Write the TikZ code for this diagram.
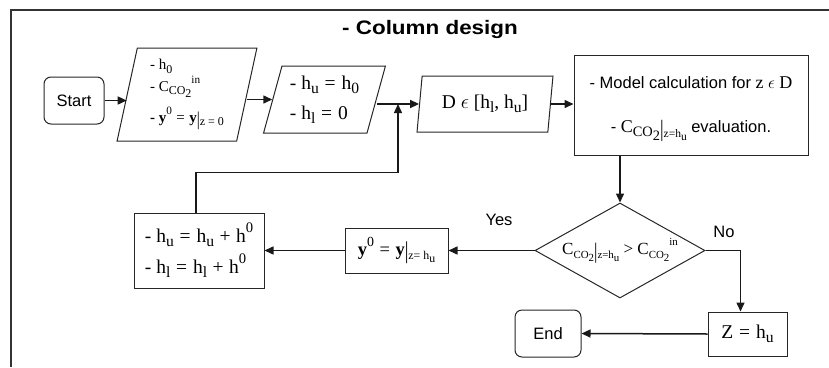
\documentclass[tikz,border=0pt]{standalone}
\usepackage{fontspec}
\setmainfont{Liberation Serif}
\setsansfont{Liberation Sans}
\usetikzlibrary{arrows.meta,shapes.geometric}

% notation helpers
\newcommand\sbs[1]{\raisebox{-0.22em}{\scalebox{0.8}{#1}}}
\newcommand\sps[1]{\raisebox{0.5em}{\scalebox{0.75}{#1}}}
\newcommand\sbsm[1]{\raisebox{-0.25em}{\scalebox{0.64}{#1}}}
\newcommand\spsm[1]{\raisebox{0.55em}{\scalebox{0.64}{#1}}}
\newcommand\low[1]{\raisebox{-0.25em}{#1}}
\newcommand\Cco{C\sbs{CO\low{2}}}
\newcommand\CcoM{C\sbsm{CO\low{2}}}
\newcommand\evbar{\raisebox{-0.2em}{\scalebox{1}[1.3]{|}}}
\newcommand\eqs{\hspace{0.3em}=\hspace{0.3em}}
\newcommand\pls{\hspace{0.28em}+\hspace{0.28em}}
\newcommand\fs[2]{\fontsize{#1}{#2}\selectfont}

\tikzset{
  ink/.style={draw=black!85, line width=1pt},
  arr/.style={draw=black!90, line width=1.5pt, -{Triangle[length=9pt,width=8pt]}},
  term/.style={ink, rounded corners=7pt, inner sep=0pt, font=\sffamily\fs{16.5}{20}},
  procbox/.style={ink, inner sep=0pt, font=\fs{19.5}{31}},
  iobox/.style={ink, trapezium, trapezium stretches=true, inner sep=0pt, font=\fs{19.5}{30}},
  decision/.style={ink, diamond, inner sep=0pt},
  lbl/.style={font=\sffamily\fs{16.5}{20}, inner sep=0pt},
}

\begin{document}
\begin{tikzpicture}[x=1pt,y=-1pt]
\useasboundingbox (0,0) rectangle (829,367);

% outer frame (left and top edges)
\draw[draw=black!80, line width=1.5pt] (11,367) |- (829,10);

\node[font=\sffamily\bfseries\fs{19.5}{20}, inner sep=0pt] (title) at (430,29)
  {\scalebox{1.15}[1]{- Column design}};

% start / end terminals
\node[term, minimum width=60, minimum height=47] (start) at (74,100.5) {Start};
\node[term, minimum width=66, minimum height=47] (end) at (548,333.5) {End};

% input / initialisation blocks
\node[iobox, trapezium left angle=77.9, trapezium right angle=102.1,
      minimum width=140, minimum height=93, align=left, font=\fs{15}{18}] (p1) at (187,94.5)
  {- h\sbs{0}\\[2pt] - \Cco\sps{in}\\[9pt] \textbf{- y}\sps{0}\eqs\textbf{y}\evbar\sbs{z = 0}};
\node[iobox, trapezium left angle=72.6, trapezium right angle=107.4,
      minimum width=123, minimum height=67, align=left] (p2) at (324.5,99.5)
  {- h\sbs{u}\eqs h\sbs{0}\\ - h\sbs{l}\eqs 0};
\node[iobox, trapezium left angle=78.9, trapezium right angle=101.1,
      minimum width=136, minimum height=56] (p3) at (485,104)
  {D $\epsilon$ [h\sbs{l}, h\sbs{u}]};

% model evaluation
\node[procbox, minimum width=234, minimum height=100,
      label={[yshift=-4pt, inner sep=0pt, align=center, font=\fs{18}{22}]center:
        {\sffamily\fs{16.5}{20}- Model calculation for} z $\epsilon$ D\\[22pt]
        {\sffamily\fs{16.5}{20}-} \Cco\evbar\sbsm{z=h\low{u}} {\sffamily\fs{16.5}{20}evaluation.}}]
  (box) at (691,105) {};

% convergence test (fixed outline, condition set centred inside)
\node[decision, minimum width=170, minimum height=95,
      label={[inner sep=0pt, font=\fs{17}{20}]center:\CcoM\evbar\sbsm{z=h\low{u}} > \CcoM\spsm{in}}]
  (dia) at (620,250.5) {};

% update blocks
\node[procbox, minimum width=103, minimum height=45, font=\fs{18.5}{22}] (yb) at (396.5,250.5)
  {\textbf{y}\sps{0}\eqs\textbf{y}\evbar\sbsm{z= h\low{u}}};
\node[procbox, minimum width=130, minimum height=75, align=left] (hb) at (199,250.5)
  {- h\sbs{u}\eqs h\sbs{u}\pls h\sps{0}\\ - h\sbs{l}\eqs h\sbs{l}\pls h\sps{0}};
\node[procbox, minimum width=79, minimum height=44] (zb) at (747.5,334)
  {Z\eqs h\sbs{u}};

\node[lbl] (yes) at (499,220) {Yes};
\node[lbl] (no) at (724,232) {No};

\coordinate (merge) at (398,104);

% connectors
\draw[arr] (start.east) -- (start.east -| p1.west);
\draw[arr] (p1.east |- p2.west) -- (p2.west);
\draw[arr] (p2.east |- p3.west) -- (p3.west);
\draw[arr] (p3.east) -- (p3.east -| box.west);
\draw[arr] (dia.north |- box.south) -- (dia.north);
\draw[arr] (dia.west) -- (yb.east);
\draw[arr] (yb.west) -- (hb.east);
\draw[arr] ([xshift=-3pt]hb.north) -- ++(0,-40) -| (merge);
\draw[arr] (dia.east) -| ([xshift=-7pt]zb.north);
\draw[arr] (zb.west) -- (end.east);
\end{tikzpicture}
\end{document}
